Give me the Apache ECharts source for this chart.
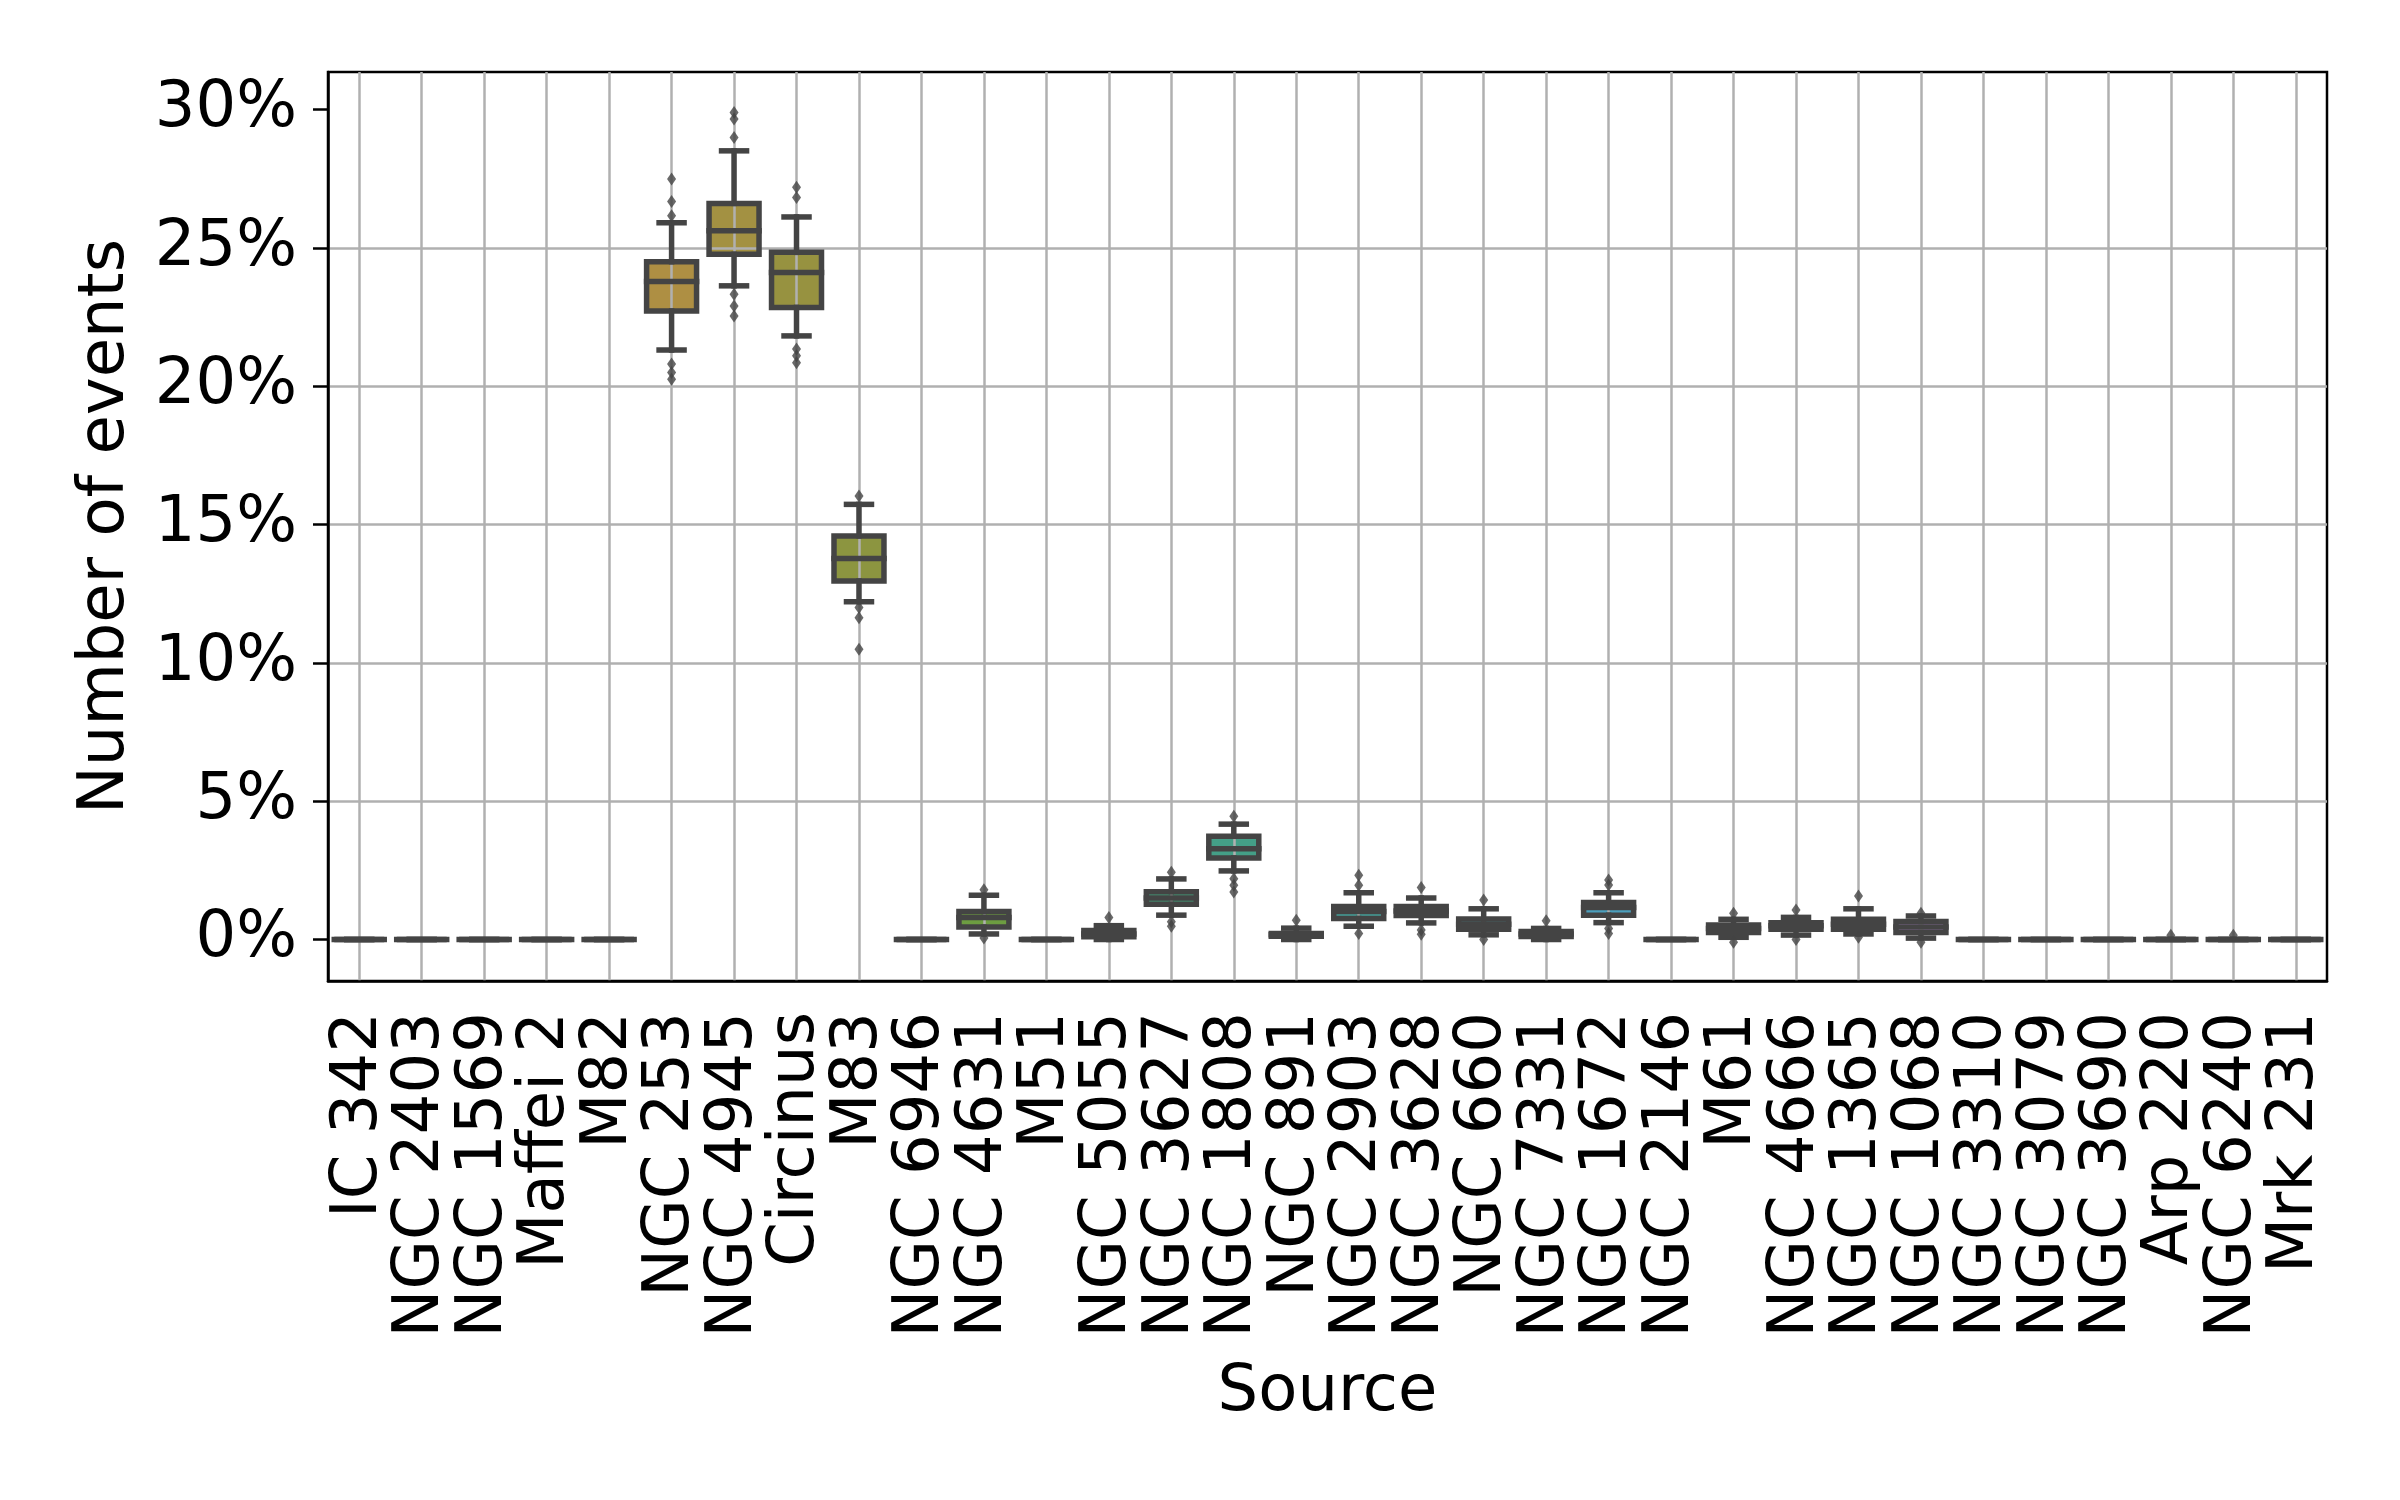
<!DOCTYPE html>
<html>
<head>
<meta charset="utf-8">
<script src="https://cdn.jsdelivr.net/npm/echarts@6/dist/echarts.min.js"></script>
<style>
  html, body { margin: 0; padding: 0; background: #fff; }
  #main { width: 2400px; height: 1500px; }
</style>
</head>
<body>
<div id="main"></div>
<script>
  // sources on the x axis
  var sources = [
    "IC 342", "NGC 2403", "NGC 1569", "Maffei 2", "M82", "NGC 253", "NGC 4945", "Circinus",
    "M83", "NGC 6946", "NGC 4631", "M51", "NGC 5055", "NGC 3627", "NGC 1808", "NGC 891",
    "NGC 2903", "NGC 3628", "NGC 660", "NGC 7331", "NGC 1672", "NGC 2146", "M61", "NGC 4666",
    "NGC 1365", "NGC 1068", "NGC 3310", "NGC 3079", "NGC 3690", "Arp 220", "NGC 6240", "Mrk 231"
  ];
  // box statistics, in percent
  var whiskerLow = [0, 0, 0, 0, 0, 21.31, 23.63, 21.82, 12.21, 0, 0.2, 0, 0, 0.88, 2.48, 0,
    0.48, 0.6, 0.17, 0, 0.61, 0, 0.08, 0.16, 0.2, 0.05, 0, 0, 0, 0, 0, 0];
  var q1 = [0, 0, 0, 0, 0, 22.72, 24.77, 22.85, 12.96, 0, 0.45, 0, 0.1, 1.27, 2.95, 0.12,
    0.76, 0.87, 0.37, 0.11, 0.88, 0, 0.25, 0.37, 0.37, 0.25, 0, 0, 0, 0, 0, 0];
  var median = [0, 0, 0, 0, 0, 23.79, 25.62, 24.11, 13.77, 0, 0.8, 0, 0.2, 1.5, 3.28, 0.17,
    1.01, 1.03, 0.55, 0.2, 1.16, 0, 0.4, 0.5, 0.55, 0.45, 0, 0, 0, 0, 0, 0];
  var q3 = [0, 0, 0, 0, 0, 24.5, 26.61, 24.84, 14.59, 0, 1.01, 0, 0.33, 1.73, 3.73, 0.22,
    1.19, 1.19, 0.74, 0.29, 1.34, 0, 0.52, 0.61, 0.73, 0.65, 0, 0, 0, 0, 0, 0];
  var whiskerHigh = [0, 0, 0, 0, 0, 25.91, 28.51, 26.12, 15.73, 0, 1.6, 0, 0.5, 2.19, 4.17, 0.41,
    1.69, 1.5, 1.11, 0.4, 1.69, 0, 0.73, 0.8, 1.11, 0.85, 0, 0, 0, 0, 0, 0];
  var fliers = [
    [], [], [], [], [],
    [26.16, 26.68, 27.49, 20.8, 20.5, 20.25],
    [28.99, 29.66, 29.9, 23.33, 22.9, 22.54],
    [26.82, 27.19, 21.35, 21.1, 20.85],
    [16.03, 12.0, 11.63, 10.49],
    [],
    [1.8, 0.05],
    [],
    [0.8],
    [2.43, 0.64, 0.48],
    [4.46, 2.2, 1.96, 1.72],
    [0.7],
    [1.96, 2.32, 0.22],
    [1.88, 0.34, 0.19],
    [1.43, 0.0],
    [0.68],
    [1.97, 2.15, 0.4, 0.22],
    [],
    [0.95, -0.1],
    [1.07, 0.0],
    [1.57, 0.08],
    [0.95, -0.1],
    [], [], [],
    [0.15],
    [0.15],
    []
  ];
  var yTicks = [0, 5, 10, 15, 20, 25, 30];

  // husl palette like seaborn (h=.01, s=.9, l=.65), then desaturated by .75
  function husl(h, s, l) {
    var M = [[3.240969941904521, -1.537383177570093, -0.498610760293],
             [-0.96924363628087, 1.87596750150772, 0.041555057407175],
             [0.055630079696993, -0.20397695888897, 1.056971514242878]];
    var kappa = 903.2962962, eps = 0.0088564516;
    var sub1 = Math.pow(l + 16, 3) / 1560896;
    var sub2 = sub1 > eps ? sub1 : l / kappa;
    var hr = h / 180 * Math.PI, maxC = Infinity;
    for (var c = 0; c < 3; c++) {
      var m1 = M[c][0], m2 = M[c][1], m3 = M[c][2];
      for (var t = 0; t < 2; t++) {
        var top1 = (284517 * m1 - 94839 * m3) * sub2;
        var top2 = (838422 * m3 + 769860 * m2 + 731718 * m1) * l * sub2 - 769860 * t * l;
        var bottom = (632260 * m3 - 126452 * m2) * sub2 + 126452 * t;
        var len = (top2 / bottom) / (Math.sin(hr) - (top1 / bottom) * Math.cos(hr));
        if (len >= 0 && len < maxC) maxC = len;
      }
    }
    var C = maxC / 100 * s;
    var varU = C * Math.cos(hr) / (13 * l) + 0.19783000664283;
    var varV = C * Math.sin(hr) / (13 * l) + 0.46831999493879;
    var Y = l <= 8 ? l / kappa : Math.pow((l + 16) / 116, 3);
    var X = 0 - (9 * Y * varU) / ((varU - 4) * varV - varU * varV);
    var Z = (9 * Y - 15 * varV * Y - varV * X) / (3 * varV);
    return M.map(function (r) {
      var v = r[0] * X + r[1] * Y + r[2] * Z;
      v = v <= 0.0031308 ? 12.92 * v : 1.055 * Math.pow(v, 1 / 2.4) - 0.055;
      return Math.min(1, Math.max(0, v));
    });
  }
  var palette = sources.map(function (_, i) {
    var rgb = husl(((i / sources.length + 0.01) % 1) * 359, 0.9 * 99, 0.65 * 99);
    var lum = (Math.max.apply(null, rgb) + Math.min.apply(null, rgb)) / 2;
    return "rgb(" + rgb.map(function (c) {
      return Math.round((lum + (c - lum) * 0.75) * 255);
    }).join(",") + ")";
  });

  var boxData = sources.map(function (s, i) {
    return [i, whiskerLow[i], q1[i], median[i], q3[i], whiskerHigh[i]];
  });
  var flierData = [];
  fliers.forEach(function (list, i) {
    list.forEach(function (v) { flierData.push([i, v]); });
  });

  var font = "DejaVu Sans";
  var dark = "#444444";
  var chart = echarts.init(document.getElementById("main"));

  chart.setOption({
    animation: false,
    backgroundColor: "#fff",
    grid: {
      left: 328, right: 73, top: 72, bottom: 519,
      show: true, borderColor: "#000", borderWidth: 2.5,
      outerBoundsMode: "none"
    },
    xAxis: {
      type: "category",
      data: sources,
      z: 3,
      name: "Source",
      nameLocation: "middle",
      nameGap: 380,
      nameTextStyle: { fontSize: 64, color: "#000", fontFamily: font },
      axisLine: { onZero: false, lineStyle: { color: "#000", width: 2.5 } },
      axisTick: { alignWithLabel: true, length: 15, lineStyle: { color: "#000", width: 2.5 } },
      axisLabel: { interval: 0, rotate: 90, margin: 31, fontSize: 64, color: "#000", fontFamily: font },
      splitLine: { show: true, alignWithLabel: true, lineStyle: { color: "#b0b0b0", width: 2.5 } }
    },
    yAxis: {
      type: "value",
      min: -1.5,
      max: 31.36,
      minInterval: 5,
      maxInterval: 5,
      z: 3,
      name: "Number of events",
      nameLocation: "middle",
      nameRotate: 90,
      nameGap: 190,
      nameTextStyle: { fontSize: 64, color: "#000", fontFamily: font },
      axisLine: { show: true, lineStyle: { color: "#000", width: 2.5 } },
      axisTick: { show: true, customValues: yTicks, length: 15, lineStyle: { color: "#000", width: 2.5 } },
      axisLabel: {
        customValues: yTicks, formatter: "{value}%", margin: 31,
        fontSize: 64, color: "#000", fontFamily: font
      },
      splitLine: { show: true, showMinLine: false, showMaxLine: false, lineStyle: { color: "#b0b0b0", width: 2.5 } }
    },
    series: [
      {
        // box fill, under the grid lines
        type: "custom",
        z: 1,
        encode: { x: 0, y: [1, 2, 3, 4, 5] },
        data: boxData,
        renderItem: function (params, api) {
          var i = api.value(0);
          var half = api.size([1, 0])[0] * 0.4;
          var top = api.coord([i, api.value(4)]);
          var bot = api.coord([i, api.value(2)]);
          return {
            type: "rect",
            shape: { x: top[0] - half, y: top[1], width: half * 2, height: bot[1] - top[1] },
            style: { fill: palette[i] }
          };
        }
      },
      {
        // box outline, whiskers, caps and median
        type: "custom",
        z: 5,
        encode: { x: 0, y: [1, 2, 3, 4, 5] },
        data: boxData,
        renderItem: function (params, api) {
          var i = api.value(0);
          var half = api.size([1, 0])[0] * 0.4;
          var x = api.coord([i, 0])[0];
          var y = [1, 2, 3, 4, 5].map(function (d) { return api.coord([i, api.value(d)])[1]; });
          var st = { stroke: dark, lineWidth: 5.5, fill: null, lineCap: "square" };
          function seg(x1, y1, x2, y2) {
            return { type: "line", shape: { x1: x1, y1: y1, x2: x2, y2: y2 }, style: st };
          }
          return {
            type: "group",
            children: [
              seg(x, y[1], x, y[0]),
              seg(x, y[3], x, y[4]),
              seg(x - half / 2, y[0], x + half / 2, y[0]),
              seg(x - half / 2, y[4], x + half / 2, y[4]),
              { type: "rect", shape: { x: x - half, y: y[3], width: half * 2, height: y[1] - y[3] }, style: st },
              seg(x - half, y[2], x + half, y[2])
            ]
          };
        }
      },
      {
        type: "scatter",
        z: 6,
        symbol: "diamond",
        symbolSize: [9, 13],
        itemStyle: { color: dark },
        data: flierData
      }
    ]
  });
</script>
</body>
</html>
